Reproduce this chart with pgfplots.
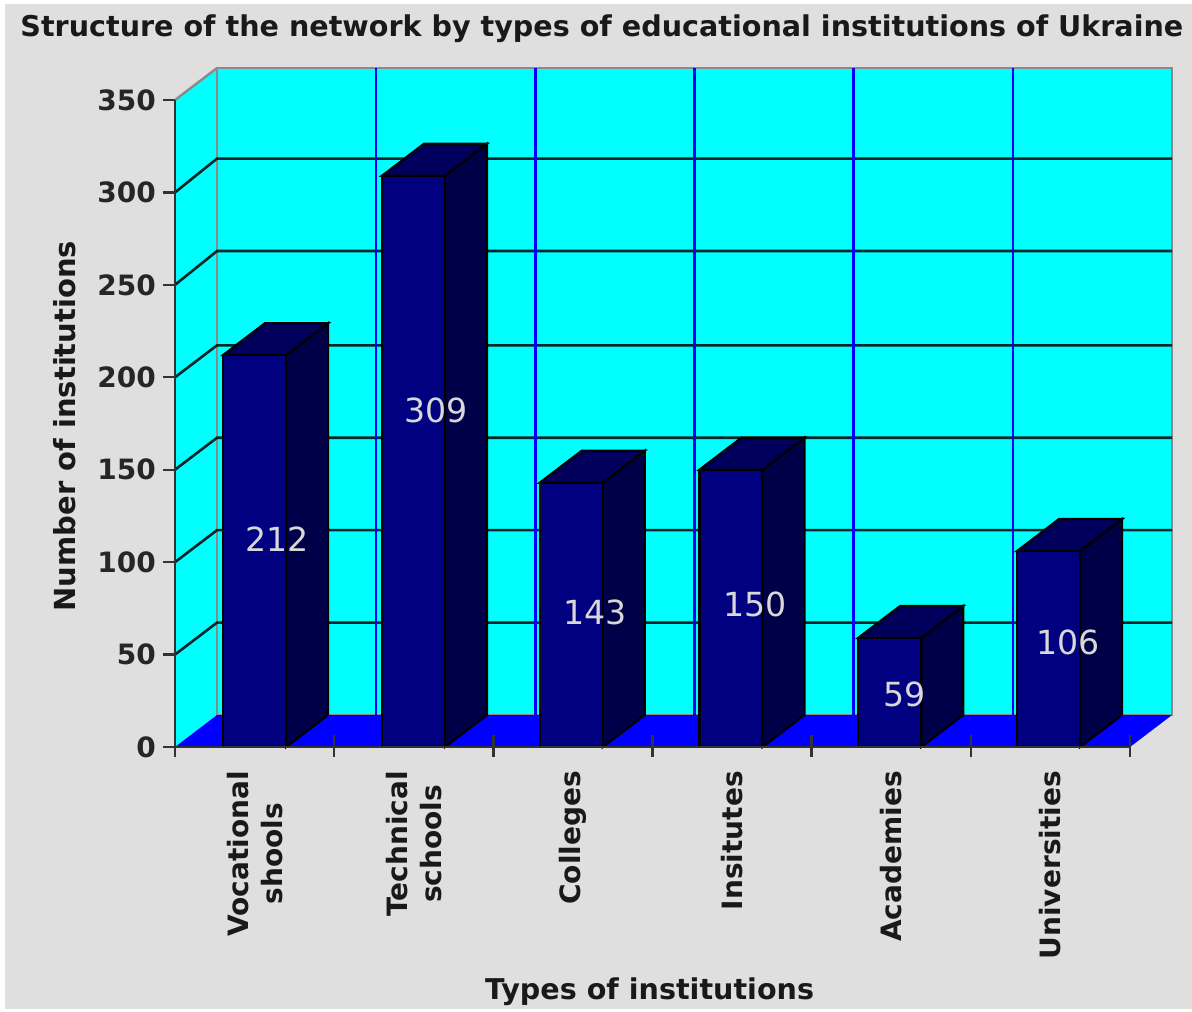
\documentclass[border=0pt]{standalone}
\usepackage{pgfplots}
\pgfplotsset{compat=1.18}
\usepackage{pgfplotstable}
\usepackage{fontspec}
\setmainfont{DejaVu Sans}
\definecolor{bg}{HTML}{DFDFDF}
\definecolor{wall}{HTML}{00FFFF}
\definecolor{floorc}{HTML}{0000FF}
\definecolor{front}{HTML}{000080}
\definecolor{side}{HTML}{000048}
\definecolor{topc}{HTML}{00005C}
\definecolor{edge}{HTML}{8A8A8A}
\definecolor{axc}{HTML}{333333}
\definecolor{lab}{HTML}{D8D8D8}
\pgfplotstableread{
x y
0.5 212
1.498 309
2.49 143
3.493 150
4.49 59
5.488 106
}\barvalues
\pgfplotstableread{
x y label
0.641 112.5 212
1.640 182.3 309
2.640 73.0 143
3.645 77.4 150
4.586 28.7 59
5.610 56.8 106
}\barlabels
\tikzset{
 frontface/.style={fill=front,draw=black,line width=1.1pt},
 sideface/.style={fill=side,draw=black,line width=1.1pt},
 topface/.style={fill=topc,draw=black,line width=1.1pt},
 gridl/.style={draw=black!85!wall,line width=1.3pt},
 vgrid/.style={draw=floorc,line width=1.2pt},
}
\begin{document}
\begin{tikzpicture}
\useasboundingbox (0,0) rectangle (596pt,505.5pt);
\fill[white] (0,0) rectangle (596pt,505.5pt);
\fill[bg] (2.5pt,1pt) rectangle (596pt,503.5pt);
\begin{axis}[
  at={(87.5pt,132pt)},anchor=south west,
  scale only axis,width=477.5pt,height=323.5pt,
  xmin=0,xmax=6,ymin=0,ymax=350,clip=false,
  axis x line*=bottom,axis y line*=left,
  axis line style={-,draw=axc,line width=1.2pt},
  ytick={0,50,...,350},
  xtick={0.5,1.5,2.5,3.5,4.5,5.5},
  xticklabels={{Vocational\\shools},{Technical\\schools},Colleges,Insitutes,Academies,Universities},
  minor xtick={0,1,2,3,4,5,6},
  tick align=outside,
  major tick length=6pt,
  x tick style={draw=none},
  y tick style={draw=axc,line width=1.2pt},
  minor x tick style={draw=axc,line width=1.2pt},
  minor tick length=5pt,
  /pgf/number format/assume math mode=true,
  yticklabel style={font=\fontsize{14}{14}\selectfont\bfseries,text=black!85,xshift=0pt},
  xticklabel style={font=\fontsize{14}{17}\selectfont\bfseries,text=black!90,rotate=90,anchor=east,align=center,xshift=-2.5pt},
  title={Structure of the network by types of educational institutions of Ukraine},
  title style={font=\fontsize{14.3}{16}\selectfont\bfseries,text=black!90,at={(axis description cs:0.447,1.091)},anchor=center},
  xlabel={Types of institutions},
  xlabel style={font=\fontsize{14.3}{16}\selectfont\bfseries,text=black!90,at={(axis description cs:0.497,-0.379)},anchor=center},
  ylabel={Number of institutions},
  ylabel style={font=\fontsize{14.5}{16}\selectfont\bfseries,text=black!90,at={(axis description cs:-0.115,0.496)},anchor=center,rotate=0},
]
% walls
\addplot[fill=wall,draw=none] coordinates {(0,0)(0.264,17.3)(0.264,367.3)(0,350)} --cycle;
\addplot[fill=wall,draw=edge,line width=1.2pt] coordinates {(0.264,17.3)(6.264,17.3)(6.264,367.3)(0.264,367.3)} --cycle;
\addplot[draw=edge,line width=1.2pt] coordinates {(0,350)(0.264,367.3)};
% grid
\addplot[gridl] coordinates {(0,50)(0.264,67.3)(6.264,67.3)};
\addplot[gridl] coordinates {(0,100)(0.264,117.3)(6.264,117.3)};
\addplot[gridl] coordinates {(0,150)(0.264,167.3)(6.264,167.3)};
\addplot[gridl] coordinates {(0,200)(0.264,217.3)(6.264,217.3)};
\addplot[gridl] coordinates {(0,250)(0.264,268.3)(6.264,268.3)};
\addplot[gridl] coordinates {(0,300)(0.264,318.3)(6.264,318.3)};
\addplot[vgrid] coordinates {(1.264,17.3)(1.264,367.3)};
\addplot[vgrid] coordinates {(2.264,17.3)(2.264,367.3)};
\addplot[vgrid] coordinates {(3.264,17.3)(3.264,367.3)};
\addplot[vgrid] coordinates {(4.264,17.3)(4.264,367.3)};
\addplot[vgrid] coordinates {(5.264,17.3)(5.264,367.3)};
% left axis line above the wall
\addplot[draw=axc,line width=1.2pt] coordinates {(0,0)(0,350)};
% floor
\addplot[fill=floorc,draw=none] coordinates {(0,0)(0.264,17.3)(6.264,17.3)(6,0)} --cycle;
% short ticks on the floor
\addplot[draw=axc,line width=1.2pt] coordinates {(1,0)(1,6.5)};
\addplot[draw=axc,line width=1.2pt] coordinates {(2,0)(2,6.5)};
\addplot[draw=axc,line width=1.2pt] coordinates {(3,0)(3,6.5)};
\addplot[draw=axc,line width=1.2pt] coordinates {(4,0)(4,6.5)};
\addplot[draw=axc,line width=1.2pt] coordinates {(5,0)(5,6.5)};
\addplot[draw=axc,line width=1.2pt] coordinates {(6,0)(6,6.5)};
% bar sides
\addplot[sideface] coordinates {(0.698,0)(0.962,17.3)(0.962,229.3)(0.698,212)} --cycle;
\addplot[topface] coordinates {(0.302,212)(0.698,212)(0.962,229.3)(0.566,229.3)} --cycle;
\addplot[sideface] coordinates {(1.696,0)(1.960,17.3)(1.960,326.3)(1.696,309)} --cycle;
\addplot[topface] coordinates {(1.300,309)(1.696,309)(1.960,326.3)(1.564,326.3)} --cycle;
\addplot[sideface] coordinates {(2.688,0)(2.952,17.3)(2.952,160.3)(2.688,143)} --cycle;
\addplot[topface] coordinates {(2.292,143)(2.688,143)(2.952,160.3)(2.556,160.3)} --cycle;
\addplot[sideface] coordinates {(3.691,0)(3.955,17.3)(3.955,167.3)(3.691,150)} --cycle;
\addplot[topface] coordinates {(3.295,150)(3.691,150)(3.955,167.3)(3.559,167.3)} --cycle;
\addplot[sideface] coordinates {(4.688,0)(4.952,17.3)(4.952,76.3)(4.688,59)} --cycle;
\addplot[topface] coordinates {(4.292,59)(4.688,59)(4.952,76.3)(4.556,76.3)} --cycle;
\addplot[sideface] coordinates {(5.686,0)(5.950,17.3)(5.950,123.3)(5.686,106)} --cycle;
\addplot[topface] coordinates {(5.290,106)(5.686,106)(5.950,123.3)(5.554,123.3)} --cycle;
% bar fronts
\addplot[ybar,bar width=31.5pt,frontface] table[x=x,y=y] {\barvalues};
% baseline
\addplot[draw=axc,line width=1.2pt] coordinates {(0,0)(6,0)};
% value labels
\addplot[draw=none,mark=none,point meta=explicit symbolic,nodes near coords,
  every node near coord/.append style={anchor=center,inner sep=0pt,text=lab,font=\fontsize{16.6}{16}\selectfont}]
  table[x=x,y=y,meta=label] {\barlabels};
\end{axis}
\end{tikzpicture}
\end{document}
